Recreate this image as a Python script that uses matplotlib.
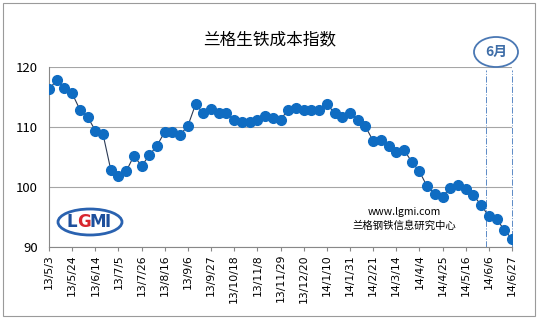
import matplotlib.pyplot as plt
from matplotlib.patches import Ellipse, Rectangle

plt.rcParams['font.family'] = ['Noto Sans CJK SC', 'DejaVu Sans']

# weekly index values, 13/5/3 .. 14/6/27
values = [116.3, 117.8, 116.5, 115.6, 112.9, 111.7, 109.4, 108.8, 102.9, 101.9,
          102.6, 105.2, 103.5, 105.3, 106.9, 109.2, 109.2, 108.7, 110.2, 113.8,
          112.3, 113.0, 112.3, 112.3, 111.1, 110.8, 110.8, 111.1, 111.9, 111.5,
          111.2, 112.9, 113.1, 112.9, 112.9, 112.9, 113.9, 112.3, 111.7, 112.4,
          111.2, 110.1, 107.7, 107.9, 106.9, 105.8, 106.2, 104.2, 102.6, 100.1,
          98.9, 98.4, 99.9, 100.3, 99.7, 98.6, 97.0, 95.1, 94.6, 92.9, 91.3]
tick_labels = ['13/5/3', '13/5/24', '13/6/14', '13/7/5', '13/7/26', '13/8/16',
               '13/9/6', '13/9/27', '13/10/18', '13/11/8', '13/11/29', '13/12/20',
               '14/1/10', '14/1/31', '14/2/21', '14/3/14', '14/4/4', '14/4/25',
               '14/5/16', '14/6/6', '14/6/27']
y_ticks = [90, 100, 110, 120]

fig = plt.figure(figsize=(5.38, 3.19), dpi=100)
ax = fig.add_axes([49/538, 1-247/319, 463/538, 180/319])

x = list(range(len(values)))
ax.plot(x, values, color='#2b3a55', lw=0.8, zorder=2)
ax.plot(x, values, 'o', color='#0f6cc2', ms=7, mec='#0f6cc2', zorder=3)

ax.set_xlim(0, 60)
ax.set_ylim(90, 120)
ax.set_yticks(y_ticks)
ax.set_xticks(range(0, 61, 3))
ax.set_xticklabels(tick_labels, rotation=90, fontsize=7.8, family='DejaVu Sans')
ax.tick_params(axis='x', length=3, color='#888888', pad=2)
ax.tick_params(axis='y', length=0, labelsize=9.5, pad=8)
ax.grid(axis='y', color='#a6a6a6', lw=0.8)
ax.set_axisbelow(True)
for s in ['top', 'right']:
    ax.spines[s].set_visible(False)
ax.spines['left'].set_color('#888888')
ax.spines['bottom'].set_color('#888888')

fig.text(270/538, 1-40/319, '兰格生铁成本指数', fontsize=12, ha='center', va='center')

# month marker
for xv in [56.6, 60]:
    ax.plot([xv, xv], [90, 119.5], color='#5b8ac6', lw=0.7, ls='-.', clip_on=False)
fig.patches.append(Ellipse((496/538, 1-52/319), 44/538, 30/319, transform=fig.transFigure,
                           fc='white', ec='#4a78b4', lw=1.3))
fig.text(496/538, 1-52/319, '6月', fontsize=10, color='#3f6ea8', weight='bold',
         ha='center', va='center')

# watermark
fig.text(404/538, 1-212/319, 'www.lgmi.com', fontsize=7.5, ha='center', va='center')
fig.text(404/538, 1-226/319, '兰格钢铁信息研究中心', fontsize=7.5, ha='center', va='center')

# logo
fig.patches.append(Ellipse((90/538, 1-222/319), 64/538, 26/319, transform=fig.transFigure,
                           fc='white', ec='#2a62b0', lw=2))
for ch, xp, c in [('L', 72, '#1d4f9c'), ('G', 84, '#d8262e'), ('M', 98, '#1d4f9c'), ('I', 108, '#1d4f9c')]:
    fig.text(xp/538, 1-222/319, ch, fontsize=12, weight='bold', color=c, ha='center', va='center',
             family='DejaVu Sans')

fig.patches.append(Rectangle((3/538, 3/319), 532/538, 313/319, transform=fig.transFigure,
                             fill=False, ec='#9a9a9a', lw=0.8))

fig.savefig('out.png', dpi=100)
